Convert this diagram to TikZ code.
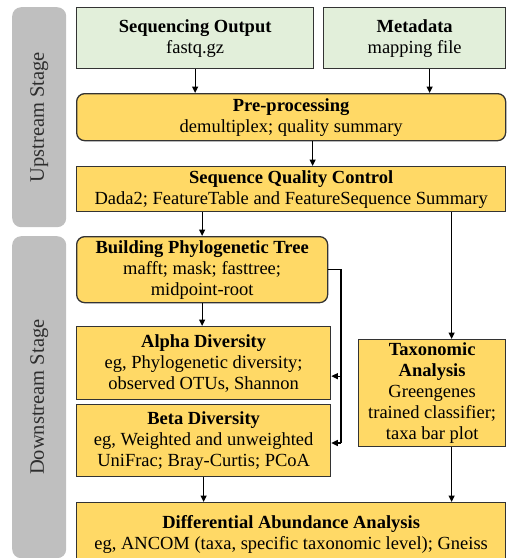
\documentclass[tikz,border=0pt]{standalone}
\usepackage{fontspec}
\setmainfont{Liberation Serif}
\usetikzlibrary{arrows.meta,positioning}
\definecolor{greenfill}{HTML}{E2EFDA}
\definecolor{yellowfill}{HTML}{FFD966}
\definecolor{edgecol}{HTML}{333333}
\definecolor{stagefill}{HTML}{BFBFBF}
\definecolor{stagetext}{HTML}{2E2E2E}

\begin{document}
\begin{tikzpicture}[x=1pt, y=-1pt,
  box/.style={draw=edgecol, line width=1.3pt, align=center, inner sep=0pt,
    anchor=north west, font=\fontsize{18.5}{21}\selectfont},
  greenbox/.style={box, fill=greenfill},
  yellowbox/.style={box, fill=yellowfill},
  stagebar/.style={fill=stagefill, rounded corners=9pt, anchor=north west,
    inner sep=0pt, minimum width=54pt},
  stagelabel/.style={rotate=90, text=stagetext, font=\fontsize{20.5}{22}\selectfont},
  arr/.style={-{Triangle[length=6.5pt,width=6pt]}, line width=1.1pt}]

  \useasboundingbox (0,0) rectangle (508,558);

  % stages
  \node[stagebar, minimum height=220pt] (up) at (12,7) {};
  \node[stagelabel] (uplabel) at (up.center) {Upstream Stage};
  \node[stagebar, minimum height=322pt] (down) at (12,236) {};
  \node[stagelabel] (downlabel) at (down.center) {Downstream Stage};

  % upstream
  \node[greenbox, minimum width=237pt, minimum height=61pt] (seq) at (76,7)
    {\textbf{Sequencing Output}\\fastq.gz};
  \node[greenbox, minimum width=182pt, minimum height=61pt] (meta) at (323,7)
    {\textbf{Metadata}\\mapping file};
  \node[yellowbox, rounded corners=8pt, minimum width=429pt, minimum height=47pt] (pre) at (76,93)
    {\textbf{Pre-processing}\\demultiplex; quality summary};
  \node[yellowbox, minimum width=429pt, minimum height=45pt] (sqc) at (76,166)
    {\textbf{Sequence Quality Control}\\Dada2; FeatureTable and FeatureSequence Summary};

  % downstream
  \node[yellowbox, rounded corners=8pt, minimum width=251pt, minimum height=66pt] (phylo) at (76,236)
    {\textbf{Building Phylogenetic Tree}\\mafft; mask; fasttree;\\midpoint-root};
  \node[yellowbox, minimum width=254pt, minimum height=73pt] (alpha) at (76,326)
    {\textbf{Alpha Diversity}\\eg, Phylogenetic diversity;\\observed OTUs, Shannon};
  \node[yellowbox, minimum width=254pt, minimum height=72pt] (beta) at (76,404)
    {\textbf{Beta Diversity}\\eg, Weighted and unweighted\\UniFrac; Bray-Curtis; PCoA};
  \node[yellowbox, minimum width=147pt, minimum height=107pt] (tax) at (358,339)
    {\textbf{Taxonomic}\\\textbf{Analysis}\\Greengenes\\trained classifier;\\taxa bar plot};
  \node[yellowbox, minimum width=429pt, minimum height=64pt] (diff) at (76,502)
    {\textbf{Differential Abundance Analysis}\\eg, ANCOM (taxa, specific taxonomic level); Gneiss};

  % connectors
  \coordinate (metaout) at ([xshift=15pt]meta.south);
  \coordinate (preout) at ([xshift=21.5pt]pre.south);
  \coordinate (taxin) at ([xshift=19.5pt]tax.north);
  \coordinate (taxout) at ([xshift=19.5pt]tax.south);
  \coordinate (alphain) at ([yshift=-13pt]alpha.east);
  \coordinate (bus) at (341,443);

  \draw[arr] (seq.south) -- (seq.south |- pre.north);
  \draw[arr] (metaout) -- (metaout |- pre.north);
  \draw[arr] (preout) -- (preout |- sqc.north);
  \draw[arr] (phylo.north |- sqc.south) -- (phylo.north);
  \draw[arr] (sqc.south -| taxin) -- (taxin);
  \draw[arr] (phylo.south) -- (phylo.south |- alpha.north);
  \draw[line width=1.1pt] (phylo.east) -| (bus);
  \draw[arr] (bus |- alphain) -- (alphain);
  \draw[arr] (bus) -- (bus -| beta.east);
  \draw[arr] (beta.south) -- (beta.south |- diff.north);
  \draw[arr] (taxout) -- (taxout |- diff.north);
\end{tikzpicture}
\end{document}
